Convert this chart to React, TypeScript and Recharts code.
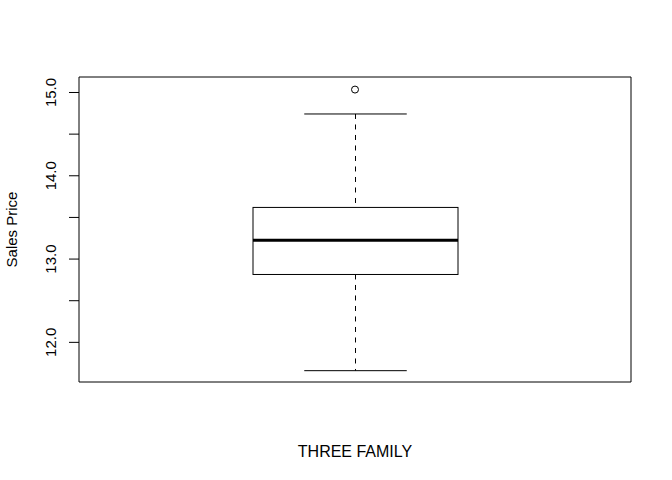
import { ComposedChart, Bar, Scatter, XAxis, YAxis, ReferenceArea } from 'recharts'

const categories = ['THREE FAMILY']
const lowerWhisker = [11.66]
const q1 = [12.815]
const median = [13.227]
const q3 = [13.62]
const upperWhisker = [14.742]
const outliers = [15.035]

const yTicks = [12, 12.5, 13, 13.5, 14, 14.5, 15]
const yDomain: [number, number] = [11.524, 15.186]

const FONT = '"Liberation Sans", Arial, Helvetica, sans-serif'

const data = categories.map((name, i) => ({
  name,
  low: lowerWhisker[i],
  q1: q1[i],
  median: median[i],
  q3: q3[i],
  high: upperWhisker[i],
  outlier: outliers[i],
}))

function BoxShape(props: any) {
  const { x, y, width, height, payload } = props
  const top = Math.min(y, y + height)
  const h = Math.abs(height)
  const span = payload.high - payload.low
  const py = (v: number) => top + ((payload.high - v) * h) / span
  const cx = x + width / 2
  const cap = width / 4
  return (
    <g stroke="#000" fill="none">
      <line x1={cx} x2={cx} y1={py(payload.high)} y2={py(payload.q3)} strokeDasharray="5 5.5" />
      <line x1={cx} x2={cx} y1={py(payload.q1)} y2={py(payload.low)} strokeDasharray="5 5.5" />
      <line x1={cx - cap} x2={cx + cap} y1={py(payload.high)} y2={py(payload.high)} />
      <line x1={cx - cap} x2={cx + cap} y1={py(payload.low)} y2={py(payload.low)} />
      <rect x={x} y={py(payload.q3)} width={width} height={py(payload.q1) - py(payload.q3)} fill="#fff" />
      <line x1={x} x2={x + width} y1={py(payload.median)} y2={py(payload.median)} strokeWidth={3} />
    </g>
  )
}

function YTick(props: any) {
  const { x, y, payload } = props
  if (payload.value % 1 !== 0) return null
  return (
    <text
      transform={`translate(${x - 11},${y}) rotate(-90)`}
      textAnchor="middle"
      fontSize={15}
      fontFamily={FONT}
      fill="#000"
    >
      {payload.value.toFixed(1)}
    </text>
  )
}

export default function App() {
  return (
    <div style={{ position: 'absolute', left: 0, top: 0, background: '#fff' }}>
      <ComposedChart width={672} height={480} data={data} margin={{ top: 77, right: 41, bottom: 0, left: 0 }}>
        <XAxis
          dataKey="name"
          type="category"
          height={98}
          tick={false}
          tickLine={false}
          axisLine={false}
          label={{
            content: (p: any) => {
              const vb = p.viewBox
              return (
                <text x={vb.x + vb.width / 2} y={457} textAnchor="middle" fontSize={16} fontFamily={FONT} fill="#000">
                  THREE FAMILY
                </text>
              )
            },
          }}
        />
        <YAxis
          type="number"
          domain={yDomain}
          allowDataOverflow
          ticks={yTicks}
          width={79}
          tickSize={10}
          tickLine={{ stroke: '#000' }}
          axisLine={false}
          tick={<YTick />}
          label={{
            content: (p: any) => {
              const vb = p.viewBox
              const cy = vb.y + vb.height / 2
              return (
                <text
                  transform={`translate(17,${cy}) rotate(-90)`}
                  textAnchor="middle"
                  fontSize={15}
                  fontFamily={FONT}
                  fill="#000"
                >
                  Sales Price
                </text>
              )
            },
          }}
        />
        <ReferenceArea y1={yDomain[0]} y2={yDomain[1]} fill="none" stroke="#000" strokeOpacity={1} fillOpacity={0} />
        <Bar dataKey={(d: any) => [d.low, d.high]} barSize={205} shape={<BoxShape />} isAnimationActive={false} />
        <Scatter
          dataKey="outlier"
          isAnimationActive={false}
          shape={(p: any) => <circle cx={p.cx} cy={p.cy} r={3.5} fill="#fff" stroke="#000" />}
        />
      </ComposedChart>
    </div>
  )
}
